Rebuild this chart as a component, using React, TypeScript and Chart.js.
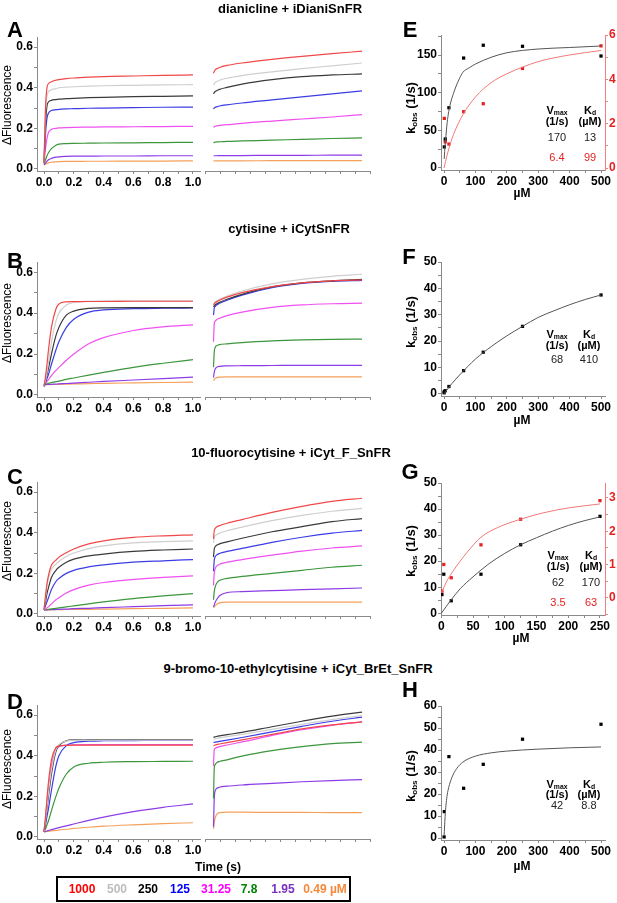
import React, { useEffect, useRef } from "react";
import { Chart, registerables } from "chart.js";
Chart.register(...registerables);

const FONT = '"Liberation Sans", Arial, Helvetica, sans-serif';

// ---------- categories / colours ----------
const CONC_LABELS = ["1000", "500", "250", "125", "31.25", "7.8", "1.95", "0.49 µM"];
const LINE_COLORS = ["#f04848", "#cfcfcf", "#3a3a3a", "#3c3ce6", "#f050f0", "#3c963c", "#8c3ce6", "#f5a05a"];
const LEGEND_COLORS = ["#ff0000", "#bdbdbd", "#000000", "#0000ff", "#ff00ff", "#008000", "#7a2fc0", "#f58a3c"];

// ---------- time grids ----------
const T_FAST = [0, 0.01, 0.02, 0.03, 0.05, 0.08, 0.1, 0.15, 0.2, 0.3, 0.4, 0.6, 0.8, 1.0];
const T_SLOW = [1, 1.5, 2, 3, 5, 10, 20, 40, 60, 80, 100];

// ---------- A: dianicline ----------
const A_FAST = [
  [0.03, 0.3, 0.4, 0.42, 0.43, 0.437, 0.44, 0.445, 0.448, 0.452, 0.455, 0.458, 0.461, 0.463],
  [0.03, 0.28, 0.36, 0.38, 0.39, 0.396, 0.4, 0.403, 0.405, 0.408, 0.41, 0.412, 0.414, 0.415],
  [0.03, 0.22, 0.31, 0.33, 0.338, 0.342, 0.344, 0.346, 0.348, 0.351, 0.353, 0.356, 0.358, 0.36],
  [0.03, 0.17, 0.25, 0.275, 0.288, 0.292, 0.294, 0.296, 0.297, 0.299, 0.3, 0.302, 0.304, 0.305],
  [0.03, 0.1, 0.15, 0.18, 0.195, 0.2, 0.202, 0.204, 0.205, 0.206, 0.207, 0.208, 0.209, 0.21],
  [0.025, 0.045, 0.065, 0.08, 0.1, 0.117, 0.122, 0.125, 0.126, 0.127, 0.128, 0.129, 0.13, 0.131],
  [0.02, 0.03, 0.038, 0.045, 0.052, 0.058, 0.06, 0.062, 0.063, 0.063, 0.064, 0.064, 0.065, 0.065],
  [0.02, 0.024, 0.027, 0.03, 0.033, 0.035, 0.036, 0.037, 0.037, 0.038, 0.038, 0.039, 0.039, 0.04],
];
const A_SLOW = [
  [0.472, 0.48, 0.487, 0.493, 0.5, 0.51, 0.522, 0.54, 0.555, 0.568, 0.58],
  [0.412, 0.42, 0.425, 0.43, 0.437, 0.447, 0.46, 0.478, 0.494, 0.508, 0.522],
  [0.37, 0.376, 0.38, 0.385, 0.392, 0.402, 0.418, 0.44, 0.455, 0.463, 0.468],
  [0.295, 0.3, 0.303, 0.306, 0.31, 0.316, 0.325, 0.34, 0.355, 0.37, 0.385],
  [0.205, 0.208, 0.21, 0.212, 0.215, 0.218, 0.225, 0.236, 0.246, 0.256, 0.268],
  [0.128, 0.13, 0.132, 0.133, 0.134, 0.136, 0.138, 0.142, 0.146, 0.15, 0.153],
  [0.065, 0.065, 0.065, 0.065, 0.066, 0.066, 0.066, 0.067, 0.067, 0.068, 0.068],
  [0.04, 0.04, 0.04, 0.04, 0.04, 0.04, 0.04, 0.041, 0.041, 0.041, 0.041],
];

// ---------- B: cytisine ----------
const B_FAST = [
  [0.045, 0.09, 0.15, 0.22, 0.33, 0.42, 0.445, 0.455, 0.456, 0.457, 0.457, 0.458, 0.458, 0.458],
  [0.045, 0.07, 0.11, 0.16, 0.26, 0.36, 0.4, 0.44, 0.452, 0.458, 0.46, 0.46, 0.46, 0.46],
  [0.045, 0.07, 0.1, 0.13, 0.2, 0.29, 0.33, 0.39, 0.41, 0.423, 0.426, 0.427, 0.427, 0.427],
  [0.04, 0.06, 0.08, 0.1, 0.15, 0.22, 0.26, 0.33, 0.37, 0.405, 0.416, 0.422, 0.424, 0.425],
  [0.045, 0.055, 0.065, 0.075, 0.095, 0.12, 0.135, 0.17, 0.2, 0.25, 0.28, 0.315, 0.333, 0.343],
  [0.05, 0.052, 0.055, 0.057, 0.06, 0.065, 0.068, 0.076, 0.083, 0.097, 0.11, 0.135, 0.155, 0.173],
  [0.05, 0.05, 0.051, 0.051, 0.052, 0.053, 0.054, 0.056, 0.058, 0.062, 0.066, 0.073, 0.08, 0.087],
  [0.05, 0.05, 0.05, 0.05, 0.051, 0.051, 0.052, 0.053, 0.054, 0.055, 0.057, 0.059, 0.061, 0.063],
];
const B_SLOW = [
  [0.44, 0.445, 0.45, 0.455, 0.463, 0.478, 0.5, 0.53, 0.548, 0.558, 0.563],
  [0.445, 0.45, 0.455, 0.46, 0.468, 0.484, 0.508, 0.543, 0.565, 0.58, 0.59],
  [0.43, 0.436, 0.44, 0.445, 0.453, 0.468, 0.492, 0.528, 0.548, 0.558, 0.565],
  [0.39, 0.425, 0.432, 0.44, 0.448, 0.463, 0.488, 0.524, 0.545, 0.555, 0.56],
  [0.26, 0.35, 0.36, 0.368, 0.375, 0.388, 0.405, 0.428, 0.44, 0.446, 0.449],
  [0.135, 0.21, 0.23, 0.24, 0.246, 0.25, 0.256, 0.264, 0.269, 0.272, 0.273],
  [0.085, 0.11, 0.125, 0.135, 0.14, 0.142, 0.143, 0.144, 0.145, 0.145, 0.145],
  [0.07, 0.076, 0.08, 0.085, 0.087, 0.088, 0.088, 0.088, 0.088, 0.088, 0.088],
];

// ---------- C: 10-fluorocytisine ----------
const C_FAST = [
  [0.02, 0.09, 0.15, 0.19, 0.24, 0.265, 0.28, 0.302, 0.32, 0.345, 0.36, 0.377, 0.385, 0.39],
  [0.02, 0.08, 0.14, 0.175, 0.22, 0.245, 0.26, 0.283, 0.3, 0.322, 0.335, 0.35, 0.356, 0.36],
  [0.02, 0.06, 0.1, 0.13, 0.18, 0.215, 0.23, 0.255, 0.27, 0.286, 0.295, 0.308, 0.315, 0.32],
  [0.02, 0.04, 0.06, 0.08, 0.12, 0.16, 0.175, 0.2, 0.215, 0.232, 0.242, 0.255, 0.262, 0.268],
  [0.02, 0.025, 0.03, 0.035, 0.05, 0.07, 0.08, 0.103, 0.12, 0.142, 0.155, 0.17, 0.18, 0.188],
  [0.02, 0.021, 0.022, 0.023, 0.025, 0.028, 0.03, 0.035, 0.04, 0.05, 0.06, 0.076, 0.089, 0.1],
  [0.02, 0.02, 0.02, 0.021, 0.021, 0.022, 0.023, 0.024, 0.026, 0.028, 0.031, 0.036, 0.041, 0.045],
  [0.02, 0.02, 0.02, 0.02, 0.021, 0.021, 0.021, 0.022, 0.022, 0.023, 0.024, 0.026, 0.028, 0.03],
];
const C_SLOW = [
  [0.37, 0.41, 0.42, 0.428, 0.435, 0.447, 0.465, 0.5, 0.53, 0.555, 0.57],
  [0.35, 0.375, 0.385, 0.39, 0.398, 0.41, 0.428, 0.46, 0.486, 0.506, 0.52],
  [0.28, 0.32, 0.33, 0.338, 0.345, 0.355, 0.373, 0.405, 0.43, 0.455, 0.47],
  [0.21, 0.265, 0.28, 0.29, 0.298, 0.308, 0.323, 0.353, 0.378, 0.398, 0.412],
  [0.14, 0.2, 0.22, 0.235, 0.245, 0.255, 0.268, 0.29, 0.31, 0.325, 0.335],
  [0.07, 0.11, 0.13, 0.15, 0.165, 0.175, 0.185, 0.2, 0.215, 0.23, 0.24],
  [0.035, 0.045, 0.055, 0.07, 0.09, 0.105, 0.11, 0.115, 0.12, 0.124, 0.128],
  [0.03, 0.035, 0.04, 0.047, 0.055, 0.058, 0.058, 0.058, 0.058, 0.058, 0.058],
];

// ---------- D: 9-bromo-10-ethylcytisine ----------
const D_FAST = [
  [0.025, 0.1, 0.19, 0.27, 0.38, 0.44, 0.448, 0.451, 0.452, 0.452, 0.452, 0.452, 0.452, 0.452],
  [0.025, 0.08, 0.15, 0.22, 0.33, 0.43, 0.455, 0.472, 0.476, 0.477, 0.477, 0.477, 0.477, 0.477],
  [0.025, 0.075, 0.14, 0.2, 0.31, 0.42, 0.45, 0.474, 0.478, 0.479, 0.48, 0.48, 0.48, 0.48],
  [0.025, 0.06, 0.1, 0.14, 0.23, 0.35, 0.4, 0.45, 0.465, 0.472, 0.474, 0.475, 0.476, 0.476],
  [0.025, 0.09, 0.17, 0.24, 0.35, 0.43, 0.445, 0.452, 0.454, 0.455, 0.455, 0.455, 0.455, 0.455],
  [0.025, 0.04, 0.06, 0.08, 0.13, 0.2, 0.24, 0.31, 0.345, 0.363, 0.368, 0.371, 0.372, 0.373],
  [0.025, 0.027, 0.03, 0.032, 0.036, 0.042, 0.046, 0.055, 0.064, 0.082, 0.098, 0.125, 0.146, 0.163],
  [0.025, 0.026, 0.027, 0.028, 0.03, 0.032, 0.034, 0.038, 0.042, 0.048, 0.053, 0.06, 0.066, 0.07],
];
const D_SLOW = [
  [0.45, 0.452, 0.453, 0.455, 0.458, 0.465, 0.478, 0.505, 0.532, 0.552, 0.567],
  [0.48, 0.482, 0.483, 0.485, 0.488, 0.494, 0.505, 0.53, 0.555, 0.578, 0.598],
  [0.49, 0.492, 0.493, 0.495, 0.498, 0.504, 0.515, 0.543, 0.57, 0.595, 0.615],
  [0.465, 0.466, 0.467, 0.468, 0.471, 0.477, 0.49, 0.518, 0.545, 0.57, 0.59],
  [0.35, 0.43, 0.436, 0.44, 0.445, 0.453, 0.468, 0.5, 0.528, 0.55, 0.567],
  [0.19, 0.34, 0.355, 0.365, 0.372, 0.38, 0.398, 0.425, 0.445, 0.46, 0.467],
  [0.05, 0.19, 0.225, 0.238, 0.245, 0.25, 0.256, 0.264, 0.272, 0.278, 0.282],
  [0.04, 0.07, 0.09, 0.11, 0.12, 0.122, 0.122, 0.121, 0.121, 0.12, 0.12],
];

// ---------- E: kobs dianicline ----------
const E_X = [0.98, 3.9, 15.6, 62.5, 125, 250, 500];
const E_BLACK = [28, 38.5, 80, 146, 163, 161.6, 148.7];
const E_RED = [2.24, 1.18, 1.08, 2.54, 2.9, 4.49, 5.51];
const E_FIT_BLACK_X = [0.5, 2, 5, 10, 15, 20, 30, 45, 60, 80, 100, 150, 200, 300, 400, 500];
const E_FIT_BLACK_Y = [12, 22, 37, 60, 75, 85, 99, 115, 127, 133, 138, 147, 153, 158, 160, 162];
const E_FIT_RED_X = [0, 5, 15, 30, 60, 100, 150, 200, 250, 300, 400, 500];
const E_FIT_RED_Y = [0, 0.3, 0.85, 1.5, 2.4, 3.2, 3.85, 4.25, 4.55, 4.8, 5.1, 5.3];

// ---------- F: kobs cytisine ----------
const F_X = [0.245, 0.98, 3.9, 15.6, 62.5, 125, 250, 500];
const F_BLACK = [0.4, 0.9, 1.2, 2.8, 8.8, 15.8, 25.6, 37.5];
const F_FIT_X = [0, 25, 50, 100, 150, 200, 250, 300, 350, 400, 450, 500];
const F_FIT_Y = [0, 3.9, 7.2, 13.2, 17.9, 22, 25.6, 29, 31.5, 33.8, 35.8, 37.5];

// ---------- G: kobs 10-fluorocytisine ----------
const G_X = [0.98, 3.9, 15.6, 62.5, 125, 250];
const G_BLACK = [7.2, 15, 4.8, 15, 26.3, 37.2];
const G_RED = [0.2, 1.0, 0.6, 1.59, 2.36, 2.92];
const G_FIT_BLACK_X = [0, 15, 30, 50, 75, 100, 125, 150, 175, 200, 225, 250];
const G_FIT_BLACK_Y = [0, 5, 9.5, 14, 19, 23, 26.3, 29, 31.5, 33.7, 35.5, 37];
const G_FIT_RED_X = [0, 5, 10, 15, 25, 40, 62.5, 90, 125, 160, 200, 250];
const G_FIT_RED_Y = [0.15, 0.35, 0.55, 0.7, 0.98, 1.35, 1.82, 2.12, 2.36, 2.55, 2.7, 2.82];

// ---------- H: kobs 9-bromo-10-ethylcytisine ----------
const H_X = [0.245, 0.98, 15.6, 62.5, 125, 250, 500];
const H_BLACK = [0.5, 12, 37, 22.6, 33.5, 44.9, 51.7];
const H_FIT_X = [0.3, 1, 2, 4, 7, 10, 15, 25, 40, 60, 100, 150, 200, 300, 400, 500];
const H_FIT_Y = [1, 3, 6, 11, 16, 19.5, 23, 27.5, 31.5, 34.5, 37.2, 38.7, 39.5, 40.4, 41, 41.4];

// ---------- layout ----------
type Rect = { l: number; t: number; r: number; b: number };
const ML = 40, MT = 10, MR = 22, MB = 22;
const YW = 36, Y2W = 18, XH = 18;
const AXIS_GRAY = "#8a8a8a";
const RED_AXIS = "#f08080";
const RED_TEXT = "#e52222";

const pts = (xs: number[], ys: number[]) => xs.map((x, i) => ({ x, y: ys[i] }));
const near = (v: number, step: number) => Math.abs(v / step - Math.round(v / step)) < 1e-6;

function axisCfg(o: {
  min: number; max: number; step: number; major: number; dec: number;
  isX: boolean; position?: string; color?: string; labelColor?: string; display?: boolean;
}) {
  const color = o.color || AXIS_GRAY;
  const cfg: any = {
    type: "linear",
    position: o.position || (o.isX ? "bottom" : "left"),
    display: o.display !== false,
    min: o.min,
    max: o.max,
    border: { display: true, color, width: 1 },
    grid: { display: true, drawOnChartArea: false, drawTicks: true, tickLength: 3, tickColor: color, lineWidth: 1 },
    ticks: {
      stepSize: o.step,
      includeBounds: false,
      autoSkip: false,
      maxRotation: 0,
      minRotation: 0,
      padding: 1,
      color: o.labelColor || "#000",
      font: { family: FONT, size: 12, weight: "bold" },
      callback: (v: any) => (near(Number(v), o.major) ? Number(v).toFixed(o.dec) : ""),
    },
  };
  if (o.display !== false) {
    cfg.afterFit = (s: any) => {
      if (o.isX) s.height = XH;
      else if (o.position === "right") s.width = Y2W;
      else s.width = YW;
    };
  }
  return cfg;
}

function lineDs(xs: number[], ys: number[], color: string, width = 1.2, yAxisID = "y") {
  return {
    data: pts(xs, ys),
    showLine: true,
    borderColor: color,
    backgroundColor: color,
    borderWidth: width,
    pointRadius: 0,
    cubicInterpolationMode: "monotone",
    fill: false,
    yAxisID,
  };
}
function pointDs(xs: number[], ys: number[], color: string, yAxisID = "y") {
  return {
    data: pts(xs, ys),
    showLine: false,
    pointStyle: "rect",
    pointRadius: 2.3,
    borderWidth: 0,
    backgroundColor: color,
    borderColor: color,
    yAxisID,
  };
}

function makeConfig(datasets: any[], scales: any, hasY: boolean, hasY2: boolean) {
  return {
    type: "scatter",
    data: { datasets },
    options: {
      responsive: false,
      animation: false,
      events: [],
      layout: {
        padding: {
          left: hasY ? ML - YW : ML,
          right: hasY2 ? MR - Y2W : MR,
          top: MT,
          bottom: MB - XH,
        },
      },
      plugins: { legend: { display: false }, tooltip: { enabled: false }, title: { display: false } },
      scales,
    },
  };
}

function ChartBox({ rect, build }: { rect: Rect; build: () => any }) {
  const ref = useRef<HTMLCanvasElement>(null);
  const w = rect.r - rect.l + ML + MR;
  const h = rect.b - rect.t + MT + MB;
  useEffect(() => {
    const chart = new Chart(ref.current as HTMLCanvasElement, build());
    return () => chart.destroy();
  }, []);
  return (
    <canvas
      ref={ref}
      width={w}
      height={h}
      style={{ position: "absolute", left: rect.l - ML, top: rect.t - MT, width: w, height: h }}
    />
  );
}

function kineticFast(series: number[][]) {
  return () =>
    makeConfig(
      series.map((ys, i) => lineDs(T_FAST, ys, LINE_COLORS[i])),
      {
        x: axisCfg({ min: -0.047, max: 1.047, step: 0.1, major: 0.2, dec: 1, isX: true }),
        y: axisCfg({ min: -0.01, max: 0.65, step: 0.1, major: 0.2, dec: 1, isX: false }),
      },
      true,
      false
    );
}
function kineticSlow(series: number[][]) {
  return () =>
    makeConfig(
      series.map((ys, i) => lineDs(T_SLOW, ys, LINE_COLORS[i])),
      {
        x: axisCfg({ min: -4.67, max: 105.3, step: 10, major: 20, dec: 0, isX: true }),
        y: axisCfg({ min: -0.01, max: 0.65, step: 0.1, major: 0.2, dec: 1, isX: false, display: false }),
      },
      false,
      false
    );
}

const buildE = () =>
  makeConfig(
    [
      lineDs(E_FIT_BLACK_X, E_FIT_BLACK_Y, "#555555", 1),
      lineDs(E_FIT_RED_X, E_FIT_RED_Y, "#f07a7a", 1, "y2"),
      pointDs(E_X, E_BLACK, "#000000"),
      pointDs(E_X, E_RED, "#e52222", "y2"),
    ],
    {
      x: axisCfg({ min: -9.6, max: 512.7, step: 50, major: 100, dec: 0, isX: true }),
      y: axisCfg({ min: -2.66, max: 176.6, step: 25, major: 50, dec: 0, isX: false }),
      y2: axisCfg({ min: -0.09, max: 6.0, step: 1, major: 2, dec: 0, isX: false, position: "right", color: RED_AXIS, labelColor: RED_TEXT }),
    },
    true,
    true
  );

const buildF = () =>
  makeConfig(
    [lineDs(F_FIT_X, F_FIT_Y, "#555555", 1), pointDs(F_X, F_BLACK, "#000000")],
    {
      x: axisCfg({ min: -9.6, max: 512.7, step: 50, major: 100, dec: 0, isX: true }),
      y: axisCfg({ min: -0.8, max: 50, step: 5, major: 10, dec: 0, isX: false }),
    },
    true,
    false
  );

const buildG = () =>
  makeConfig(
    [
      lineDs(G_FIT_BLACK_X, G_FIT_BLACK_Y, "#555555", 1),
      lineDs(G_FIT_RED_X, G_FIT_RED_Y, "#f07a7a", 1, "y2"),
      pointDs(G_X, G_BLACK, "#000000"),
      pointDs(G_X, G_RED, "#e52222", "y2"),
    ],
    {
      x: axisCfg({ min: -0.5, max: 257.9, step: 25, major: 50, dec: 0, isX: true }),
      y: axisCfg({ min: -0.65, max: 50, step: 5, major: 10, dec: 0, isX: false }),
      y2: axisCfg({ min: -0.52, max: 3.45, step: 0.5, major: 1, dec: 0, isX: false, position: "right", color: RED_AXIS, labelColor: RED_TEXT }),
    },
    true,
    true
  );

const buildH = () =>
  makeConfig(
    [lineDs(H_FIT_X, H_FIT_Y, "#555555", 1), pointDs(H_X, H_BLACK, "#000000")],
    {
      x: axisCfg({ min: -9.6, max: 512.7, step: 50, major: 100, dec: 0, isX: true }),
      y: axisCfg({ min: -0.9, max: 60, step: 5, major: 10, dec: 0, isX: false }),
    },
    true,
    false
  );

// ---------- text helpers ----------
function Txt(p: { x: number; y: number; size?: number; bold?: boolean; color?: string; rotate?: boolean; children: any }) {
  return (
    <div
      style={{
        position: "absolute",
        left: p.x,
        top: p.y,
        transform: `translate(-50%, -50%)${p.rotate ? " rotate(-90deg)" : ""}`,
        fontFamily: FONT,
        fontSize: p.size || 12,
        fontWeight: p.bold ? "bold" : "normal",
        color: p.color || "#000",
        whiteSpace: "nowrap",
        lineHeight: 1,
      }}
    >
      {p.children}
    </div>
  );
}
const Sub = ({ children }: { children: any }) => (
  <span style={{ fontSize: "0.62em", verticalAlign: "-0.25em" }}>{children}</span>
);

function KTable(p: { x1: number; x2: number; y: number[]; black: string[]; red?: string[] }) {
  return (
    <>
      <Txt x={p.x1} y={p.y[0]} size={11} bold>V<Sub>max</Sub></Txt>
      <Txt x={p.x2} y={p.y[0]} size={11} bold>K<Sub>d</Sub></Txt>
      <Txt x={p.x1} y={p.y[1]} size={11} bold>(1/s)</Txt>
      <Txt x={p.x2} y={p.y[1]} size={11} bold>(µM)</Txt>
      <Txt x={p.x1} y={p.y[2]} size={11} color="#222">{p.black[0]}</Txt>
      <Txt x={p.x2} y={p.y[2]} size={11} color="#222">{p.black[1]}</Txt>
      {p.red && <Txt x={p.x1} y={p.y[3]} size={11} color={RED_TEXT}>{p.red[0]}</Txt>}
      {p.red && <Txt x={p.x2} y={p.y[3]} size={11} color={RED_TEXT}>{p.red[1]}</Txt>}
    </>
  );
}

const ROWS = [
  { t: 37, b: 171, title: "dianicline + iDianiSnFR", tx: 290, ty: 8, letter: "A", ly: 30, fy: 105, fast: A_FAST, slow: A_SLOW },
  { t: 262, b: 397, title: "cytisine + iCytSnFR", tx: 289, ty: 228, letter: "B", ly: 261, fy: 323, fast: B_FAST, slow: B_SLOW },
  { t: 482, b: 616, title: "10-fluorocytisine + iCyt_F_SnFR", tx: 291, ty: 452, letter: "C", ly: 477, fy: 541, fast: C_FAST, slow: C_SLOW },
  { t: 705, b: 839, title: "9-bromo-10-ethylcytisine + iCyt_BrEt_SnFR", tx: 298, ty: 668, letter: "D", ly: 702, fy: 769, fast: D_FAST, slow: D_SLOW },
];

const LEGEND_X = [82, 117, 148, 180, 216, 249, 283, 325];

export default function App() {
  return (
    <div style={{ position: "absolute", left: 0, top: 0, width: 617, height: 903, overflow: "hidden", background: "#fff" }}>
      {ROWS.map((r, i) => (
        <React.Fragment key={i}>
          <ChartBox rect={{ l: 37, r: 200, t: r.t, b: r.b }} build={kineticFast(r.fast)} />
          <ChartBox rect={{ l: 205, r: 370, t: r.t, b: r.b }} build={kineticSlow(r.slow)} />
          <Txt x={r.tx} y={r.ty} size={13} bold>{r.title}</Txt>
          <Txt x={15} y={r.ly} size={22} bold>{r.letter}</Txt>
          <Txt x={7} y={r.fy} size={12} rotate>ΔFluorescence</Txt>
        </React.Fragment>
      ))}

      <ChartBox rect={{ l: 441, r: 605, t: 35, b: 170 }} build={buildE} />
      <ChartBox rect={{ l: 441, r: 605, t: 262, b: 396 }} build={buildF} />
      <ChartBox rect={{ l: 441, r: 605, t: 483, b: 615 }} build={buildG} />
      <ChartBox rect={{ l: 441, r: 605, t: 706, b: 840 }} build={buildH} />

      <Txt x={410} y={30} size={22} bold>E</Txt>
      <Txt x={409} y={257} size={22} bold>F</Txt>
      <Txt x={410} y={472} size={22} bold>G</Txt>
      <Txt x={410} y={690} size={22} bold>H</Txt>

      <Txt x={412} y={108} size={13} bold rotate>k<Sub>obs</Sub> (1/s)</Txt>
      <Txt x={412} y={322} size={13} bold rotate>k<Sub>obs</Sub> (1/s)</Txt>
      <Txt x={412} y={551} size={13} bold rotate>k<Sub>obs</Sub> (1/s)</Txt>
      <Txt x={412} y={776} size={13} bold rotate>k<Sub>obs</Sub> (1/s)</Txt>

      <Txt x={522} y={193} size={12} bold>µM</Txt>
      <Txt x={522} y={420} size={12} bold>µM</Txt>
      <Txt x={521} y={638} size={12} bold>µM</Txt>
      <Txt x={522} y={866} size={12} bold>µM</Txt>

      <KTable x1={557} x2={590} y={[111, 121, 137, 157]} black={["170", "13"]} red={["6.4", "99"]} />
      <KTable x1={557} x2={589} y={[335, 345, 359]} black={["68", "410"]} />
      <KTable x1={558} x2={591} y={[556, 566, 582, 602]} black={["62", "170"]} red={["3.5", "63"]} />
      <KTable x1={557} x2={589} y={[785, 794, 805]} black={["42", "8.8"]} />

      <Txt x={218} y={867} size={12} bold>Time (s)</Txt>

      <div
        style={{
          position: "absolute",
          left: 56,
          top: 876,
          width: 295,
          height: 26,
          border: "2.5px solid #000",
          boxSizing: "border-box",
        }}
      />
      {CONC_LABELS.map((c, i) => (
        <Txt key={c} x={LEGEND_X[i]} y={889} size={12} bold color={LEGEND_COLORS[i]}>{c}</Txt>
      ))}
    </div>
  );
}
